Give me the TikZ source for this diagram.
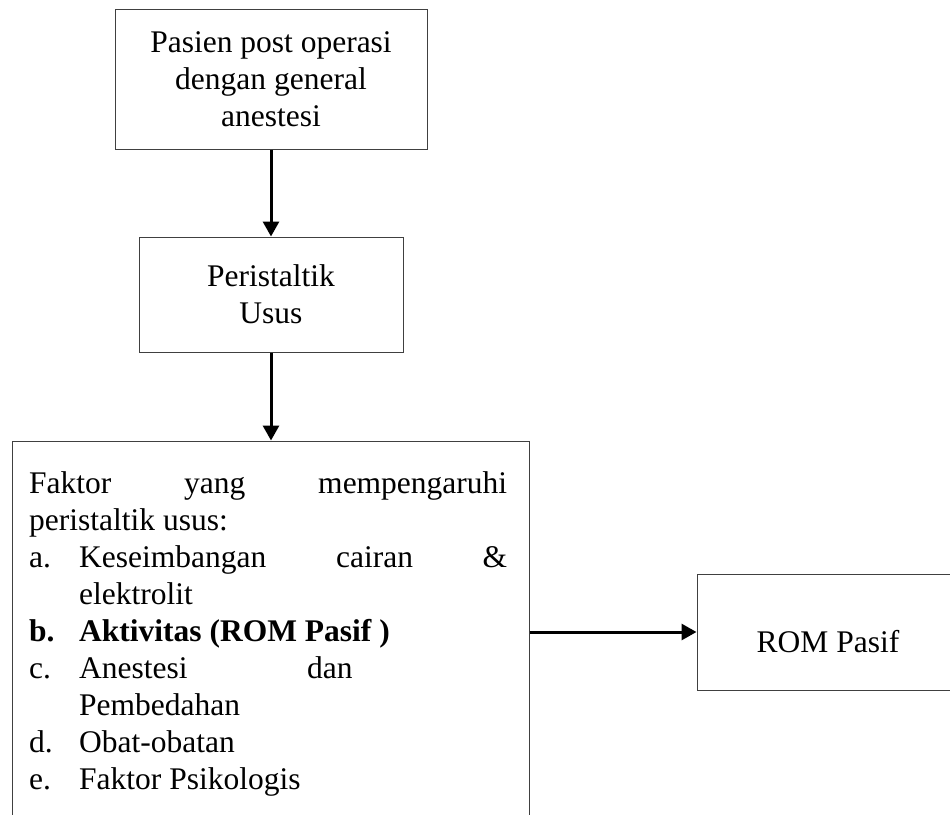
\documentclass[tikz,border=0pt]{standalone}
\usepackage{fontspec}
\setmainfont{Liberation Serif}
\usetikzlibrary{arrows.meta}
\tikzset{
  box/.style={draw=black!75, line width=1pt, inner sep=0pt, align=center,
    font=\fontsize{31.5}{37}\selectfont},
  flow/.style={draw=black, line width=3pt, -{Triangle[width=16pt,length=15pt]}},
  txt/.style={inner sep=0pt, font=\fontsize{31.5}{37}\selectfont}
}
\begin{document}
\begin{tikzpicture}[x=1pt,y=-1pt]
\path[use as bounding box, clip] (0,0) rectangle (950,814);
\node[box, minimum width=312pt, minimum height=140pt] (top) at (271,79)
  {Pasien post operasi\\dengan general\\anestesi};
\node[box, minimum width=264pt, minimum height=115pt] (peri) at (271,294.5)
  {Peristaltik\\Usus};
\node[box, minimum width=517pt, minimum height=459pt] (bigbox) at (270.5,670.5) {};
\node[box, minimum width=262pt, minimum height=116pt, text height=40pt, text depth=0pt] (rom) at (828,632)
  {ROM Pasif};
\node[txt, anchor=base west] (factors) at (29,493) {%
\begin{minipage}[t]{478pt}\fontsize{31.5}{37}\selectfont\parindent=0pt
\hbox to\linewidth{Faktor\hfill yang\hfill mempengaruhi}
\hbox{peristaltik usus:}
\hbox to\linewidth{\makebox[50pt][l]{a.}Keseimbangan\hfill cairan\hfill\&}
\hbox{\hspace*{50pt}elektrolit}
\hbox{\bfseries\makebox[50pt][l]{b.}Aktivitas (ROM Pasif )}
\hbox{\makebox[50pt][l]{c.}\makebox[228pt][l]{Anestesi}dan}
\hbox{\hspace*{50pt}Pembedahan}
\hbox{\makebox[50pt][l]{d.}Obat-obatan}
\hbox{\makebox[50pt][l]{e.}Faktor Psikologis}
\end{minipage}};
\draw[flow] (top.south) -- (peri.north);
\draw[flow] (peri.south) -- (peri.south |- bigbox.north);
\draw[flow] (bigbox.east |- rom.west) -- (rom.west);
\end{tikzpicture}
\end{document}
